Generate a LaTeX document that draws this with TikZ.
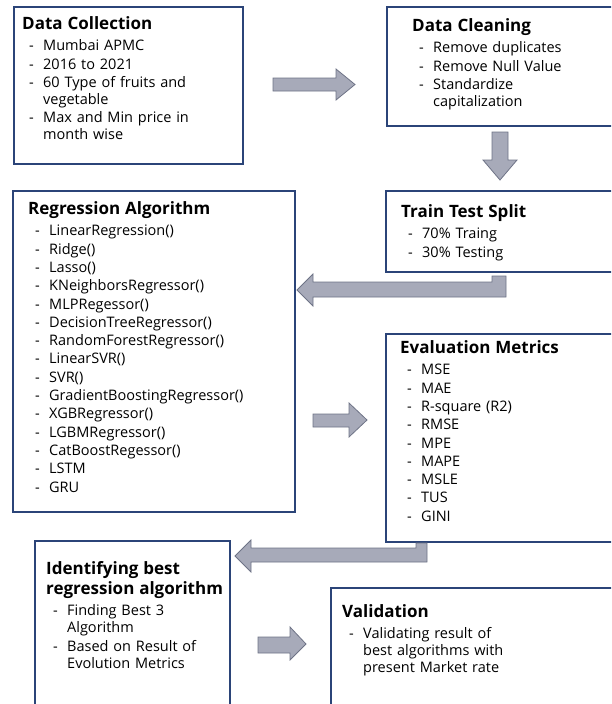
\documentclass[tikz,border=0pt]{standalone}
\usepackage{fontspec}
\setmainfont{Open Sans}
\definecolor{boxblue}{HTML}{2B4478}
\definecolor{arrfill}{HTML}{A7AAB9}
\definecolor{arrline}{HTML}{6E7386}
\newcommand\hd[1]{{\fontsize{17}{20}\selectfont\bfseries #1\par}\vskip 3.5pt}
\newcommand\li[1]{\par\vskip 1.3pt\hangindent=21pt\hangafter=1\noindent\hbox to 21pt{\hskip 7pt -\hfil}#1\par}
\begin{document}
\begin{tikzpicture}[x=1pt,y=-1pt,
  box/.style={draw=boxblue,line width=1.8pt},
  txt/.style={anchor=base west,inner sep=0pt,align=left,text width=260pt,
    font=\fontsize{14.5}{17}\selectfont},
  blk/.style={fill=arrfill,draw=arrline,line width=0.8pt,line join=miter}]
\useasboundingbox (0,0) rectangle (611,704);
\clip (0,0) rectangle (611,704);
% boxes
\node[box,anchor=north west,minimum width=229pt,minimum height=157pt] (dc) at (13,6) {};
\node[box,anchor=north west,minimum width=240pt,minimum height=119pt] (dcl) at (386,6) {};
\node[box,anchor=north west,minimum width=240pt,minimum height=81pt] (tts) at (385,190) {};
\node[box,anchor=north west,minimum width=282pt,minimum height=321pt] (ra) at (12,190) {};
\node[box,anchor=north west,minimum width=240pt,minimum height=208pt] (em) at (385,333) {};
\node[box,anchor=north west,minimum width=195pt,minimum height=180pt] (id) at (34,540) {};
\node[box,anchor=north west,minimum width=290pt,minimum height=140pt] (val) at (330,587) {};
% texts
\node[txt] (dcT) at (22,29) {\hd{Data Collection}
  \li{Mumbai APMC}\li{2016 to 2021}\li{60 Type of fruits and\newline vegetable}\li{Max and Min price in\newline month wise}};
\node[txt] (dclT) at (412,31) {\hd{Data Cleaning}
  \li{Remove duplicates}\li{Remove Null Value}\li{Standardize\newline capitalization}};
\node[txt] (ttsT) at (401,217) {\hd{Train Test Split}
  \li{70\% Traing}\li{30\% Testing}};
\node[txt] (raT) at (28,214) {\hd{Regression Algorithm}
  \li{LinearRegression()}\li{Ridge()}\li{Lasso()}\li{KNeighborsRegressor()}
  \li{MLPRegessor()}\li{DecisionTreeRegressor()}\li{RandomForestRegressor()}
  \li{LinearSVR()}\li{SVR()}\li{GradientBoostingRegressor()}\li{XGBRegressor()}
  \li{LGBMRegressor()}\li{CatBoostRegessor()}\li{LSTM}\li{GRU}};
\node[txt] (emT) at (400,353) {\hd{Evaluation Metrics}
  \li{MSE}\li{MAE}\li{R-square (R2)}\li{RMSE}\li{MPE}\li{MAPE}\li{MSLE}\li{TUS}\li{GINI}};
\node[txt] (idT) at (46,574) {\hd{Identifying best\newline regression algorithm}
  \li{Finding Best 3\newline Algorithm}\li{Based on Result of\newline Evolution Metrics}};
\node[txt] (valT) at (342,617) {\hd{Validation}
  \li{Validating result of\newline best algorithms with\newline present Market rate}};
% block arrows
\draw[blk] (273,78) -- (336,78) -- (336,69) -- (355,84.5) -- (336,100) -- (336,91) -- (273,91) -- cycle;
\draw[blk] (492,132) -- (508,132) -- (508,160) -- (517,160) -- (500,180) -- (483,160) -- (492,160) -- cycle;
\draw[blk] (506,276) -- (506,297) -- (313,297) -- (313,306) -- (297,290) -- (313,274) -- (313,282) -- (492,282) -- (492,276) -- cycle;
\draw[blk] (313,414) -- (349,414) -- (349,403) -- (367,420) -- (349,437) -- (349,427) -- (313,427) -- cycle;
\draw[blk] (427,543) -- (427,562) -- (251,562) -- (251,572) -- (235,556) -- (251,540) -- (251,548) -- (416,548) -- (416,543) -- cycle;
\draw[blk] (258,637) -- (290,637) -- (290,627) -- (306,644) -- (290,660) -- (290,653) -- (258,653) -- cycle;
\end{tikzpicture}
\end{document}
